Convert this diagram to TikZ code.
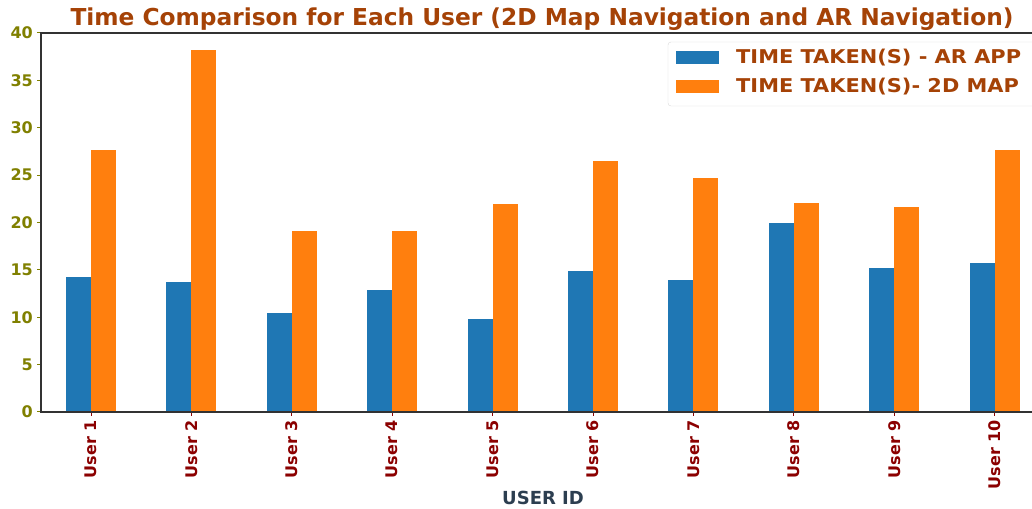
\documentclass[tikz,border=0pt]{standalone}
\usepackage{fontspec}
\setmainfont{DejaVu Sans}
\usetikzlibrary{positioning}
\definecolor{arblue}{RGB}{31,119,180}
\definecolor{maporange}{RGB}{255,127,14}
\definecolor{titlebrown}{RGB}{165,66,6}
\definecolor{tickolive}{RGB}{128,128,0}
\definecolor{userred}{RGB}{139,0,0}
\definecolor{labelslate}{RGB}{44,62,80}
\definecolor{spinegray}{RGB}{50,50,50}

\begin{document}
\begin{tikzpicture}[x=1pt, y=1pt]
\clip (0,0) rectangle (1032,508);
\fill[white] (0,0) rectangle (1032,508);

% Title
\node[anchor=base, text=titlebrown, font=\fontsize{23.3}{26}\selectfont\bfseries] (title) at (542,482)
  {Time Comparison for Each User (2D Map Navigation and AR Navigation)};

% Bars
\foreach \i/\ar/\map in {1/14.2/27.6, 2/13.7/38.2, 3/10.4/19.1, 4/12.85/19.07, 5/9.8/21.9,
                         6/14.85/26.45, 7/13.9/24.65, 8/19.9/22.1, 9/15.15/21.6, 10/15.7/27.6}
{
  \pgfmathsetmacro\cx{91+100.4*(\i-1)}
  \fill[arblue] (\cx-25,96) rectangle (\cx,96+9.475*\ar);
  \fill[maporange] (\cx,96) rectangle (\cx+25,96+9.475*\map);
  \draw[userred, line width=1pt] (\cx,96) -- (\cx,92);
  \node[rotate=90, anchor=east, text=userred, inner sep=0pt,
        font=\fontsize{16}{18}\selectfont\bfseries] (u\i) at (\cx,88) {User \i};
}

% Y ticks
\foreach \v in {0,5,...,40}
{
  \draw[tickolive, line width=1pt] (41,96+9.475*\v) -- (37,96+9.475*\v);
  \node[anchor=east, text=tickolive, inner sep=0pt,
        font=\fontsize{16}{18}\selectfont\bfseries] (y\v) at (33,96+9.475*\v) {\v};
}

% Axes
\draw[spinegray, line width=1.2pt] (1032,475) -- (41,475) -- (41,96) -- (1032,96);

% X label
\node[anchor=base, text=labelslate, inner sep=0pt,
      font=\fontsize{18}{20}\selectfont\bfseries] (xlabel) at (543,4) {USER ID};

% Legend
\draw[black!15, fill=white, rounded corners=3pt] (668,466) rectangle (1045,402);
\fill[arblue] (676,457) rectangle (719,444);
\fill[maporange] (676,428) rectangle (719,415);
\node[anchor=base west, text=titlebrown, inner sep=0pt, xscale=1.1,
      font=\fontsize{19}{20}\selectfont\bfseries] (lar) at (736,444) {TIME TAKEN(S) - AR APP};
\node[anchor=base west, text=titlebrown, inner sep=0pt, xscale=1.1,
      font=\fontsize{19}{20}\selectfont\bfseries] (lmap) at (736,415) {TIME TAKEN(S)- 2D MAP};
\end{tikzpicture}
\end{document}
